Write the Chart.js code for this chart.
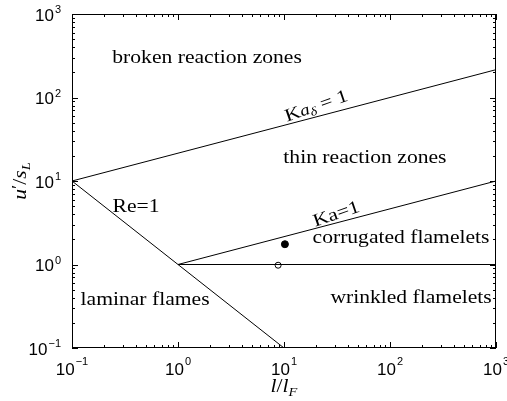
<!DOCTYPE html>
<html lang="en">
<head>
<meta charset="UTF-8">
<title>Premixed combustion regimes</title>
<script src="https://cdn.jsdelivr.net/npm/chart.js"></script>
<style>
  html, body { margin: 0; padding: 0; background: #fff; }
</style>
</head>
<body>
<canvas id="regimeChart" width="507" height="401"></canvas>
<script>
// regime boundaries, x = l/lF, y = u'/sL
const kaDeltaX = [0.1, 1000];
const kaDeltaY = [10, 215.4];
const kaX = [1, 1000];
const kaY = [1, 10];
const reX = [0.1, 10];
const reY = [10, 0.1];
const flameletX = [1, 1000];
const flameletY = [1, 1];

// operating points
const filledX = [10.2];
const filledY = [1.75];
const openX = [8.8];
const openY = [0.98];

// decade ticks and their exponents
const decadeVals = [0.1, 1, 10, 100, 1000];
const decadeExps = ['\u22121', '0', '1', '2', '3'];

const pts = (xs, ys) => xs.map((x, i) => ({ x: x, y: ys[i] }));

// region names placed in data coordinates
const regionNotes = [
  { text: 'broken reaction zones', x: 1.88, y: 297 },
  { text: 'thin reaction zones', x: 58, y: 18.8 },
  { text: 'corrugated flamelets', x: 127, y: 2.08 },
  { text: 'wrinkled flamelets', x: 158, y: 0.397 },
  { text: 'laminar flames', x: 0.489, y: 0.376 },
  { text: 'Re=1', x: 0.402, y: 4.88 }
];

const SERIF = '"Liberation Serif", "Times New Roman", serif';
const SANS = '"Liberation Sans", Arial, sans-serif';
const STRETCH = 1.2;   // widen Times glyphs towards Computer Modern proportions

function minorValues() {
  const out = [];
  for (let d = -1; d < 3; d++) {
    for (let m = 2; m <= 9; m++) out.push(m * Math.pow(10, d));
  }
  return out;
}

// draw a run of differently styled pieces centred on (x, y), optionally rotated
function drawRun(ctx, parts, x, y, rot, stretch) {
  ctx.save();
  ctx.translate(x, y);
  ctx.rotate(rot);
  ctx.scale(stretch, 1);
  let w = 0;
  parts.forEach(p => { ctx.font = p.font; w += ctx.measureText(p.t).width; });
  let cx = -w / 2;
  ctx.textAlign = 'left';
  parts.forEach(p => {
    ctx.font = p.font;
    ctx.fillText(p.t, cx, p.dy || 0);
    cx += ctx.measureText(p.t).width;
  });
  ctx.restore();
}

const framePlugin = {
  id: 'frame',
  afterDraw(chart) {
    const ctx = chart.ctx;
    const a = chart.chartArea;
    const xs = chart.scales.x, ys = chart.scales.y;
    ctx.save();
    ctx.strokeStyle = '#000';
    ctx.lineWidth = 1;
    ctx.strokeRect(a.left + 0.5, a.top + 0.5, a.right - a.left - 1, a.bottom - a.top - 1);

    // inward ticks on all four sides
    const tick = (v, len) => {
      const px = Math.round(xs.getPixelForValue(v)) + 0.5;
      const py = Math.round(ys.getPixelForValue(v)) + 0.5;
      ctx.beginPath();
      ctx.moveTo(px, a.bottom); ctx.lineTo(px, a.bottom - len);
      ctx.moveTo(px, a.top); ctx.lineTo(px, a.top + len);
      ctx.moveTo(a.left, py); ctx.lineTo(a.left + len, py);
      ctx.moveTo(a.right, py); ctx.lineTo(a.right - len, py);
      ctx.stroke();
    };
    decadeVals.forEach(v => tick(v, 6));
    minorValues().forEach(v => tick(v, 3));

    // 10^n tick labels
    ctx.fillStyle = '#000';
    ctx.textBaseline = 'alphabetic';
    const baseFont = '17px ' + SANS, expFont = '11px ' + SANS;
    decadeVals.forEach((v, i) => {
      ctx.font = baseFont;
      const wb = ctx.measureText('10').width;
      ctx.font = expFont;
      const we = ctx.measureText(decadeExps[i]).width;
      // x axis
      const cx = xs.getPixelForValue(v);
      const left = cx - (wb + we + 1) / 2;
      ctx.textAlign = 'left';
      ctx.font = baseFont;
      ctx.fillText('10', left, a.bottom + 27);
      ctx.font = expFont;
      ctx.fillText(decadeExps[i], left + wb + 1, a.bottom + 17);
      // y axis
      const cy = ys.getPixelForValue(v);
      const right = a.left - 11;
      ctx.font = expFont;
      ctx.fillText(decadeExps[i], right - we, cy - 1);
      ctx.font = baseFont;
      ctx.fillText('10', right - we - 1 - wb, cy + 6.5);
    });

    // axis titles
    const it = 'italic 18px ' + SERIF, itSub = 'italic 12px ' + SERIF, up = '18px ' + SERIF;
    drawRun(ctx, [{ t: 'l', font: it }, { t: '/', font: up }, { t: 'l', font: it }, { t: 'F', font: itSub, dy: 4 }],
      (a.left + a.right) / 2, 392, 0, STRETCH);
    drawRun(ctx, [{ t: 'u', font: it }, { t: '\u2032', font: '16px ' + SERIF, dy: -3 }, { t: '/', font: up },
      { t: 's', font: it }, { t: 'L', font: itSub, dy: 4 }],
      26, (a.top + a.bottom) / 2, -Math.PI / 2, STRETCH);

    // region names
    ctx.textBaseline = 'middle';
    regionNotes.forEach(n => {
      drawRun(ctx, [{ t: n.text, font: up }], xs.getPixelForValue(n.x), ys.getPixelForValue(n.y), 0, STRETCH);
    });

    // labels along the Karlovitz lines
    const rot = -19 * Math.PI / 180;
    ctx.textBaseline = 'alphabetic';
    drawRun(ctx, [{ t: 'Ka=1', font: up }],
      xs.getPixelForValue(32.3), ys.getPixelForValue(4.14) + 6, rot, STRETCH);
    drawRun(ctx, [{ t: 'K', font: up }, { t: 'a', font: 'italic 16px ' + SERIF },
      { t: '\u03b4', font: 'italic 12px ' + SERIF, dy: 3 }, { t: ' = 1', font: up }],
      xs.getPixelForValue(20.9), ys.getPixelForValue(81.3) + 6, rot, STRETCH);
    ctx.restore();
  }
};

const lineSet = (xs, ys) => ({
  type: 'line', data: pts(xs, ys), borderColor: '#000', borderWidth: 1,
  pointRadius: 0, fill: false, tension: 0
});

new Chart(document.getElementById('regimeChart'), {
  type: 'scatter',
  data: {
    datasets: [
      lineSet(kaDeltaX, kaDeltaY),
      lineSet(kaX, kaY),
      lineSet(reX, reY),
      lineSet(flameletX, flameletY),
      { data: pts(filledX, filledY), pointRadius: 3.5, backgroundColor: '#000', borderColor: '#000', borderWidth: 1 },
      { data: pts(openX, openY), pointRadius: 3, backgroundColor: '#fff', borderColor: '#000', borderWidth: 1 }
    ]
  },
  options: {
    responsive: false,
    animation: false,
    devicePixelRatio: 1,
    layout: { padding: { left: 72, top: 14, right: 11, bottom: 53 } },
    plugins: { legend: { display: false }, tooltip: { enabled: false } },
    scales: {
      x: { type: 'logarithmic', min: 0.1, max: 1000, display: false },
      y: { type: 'logarithmic', min: 0.1, max: 1000, display: false }
    }
  },
  plugins: [framePlugin]
});
</script>
</body>
</html>
